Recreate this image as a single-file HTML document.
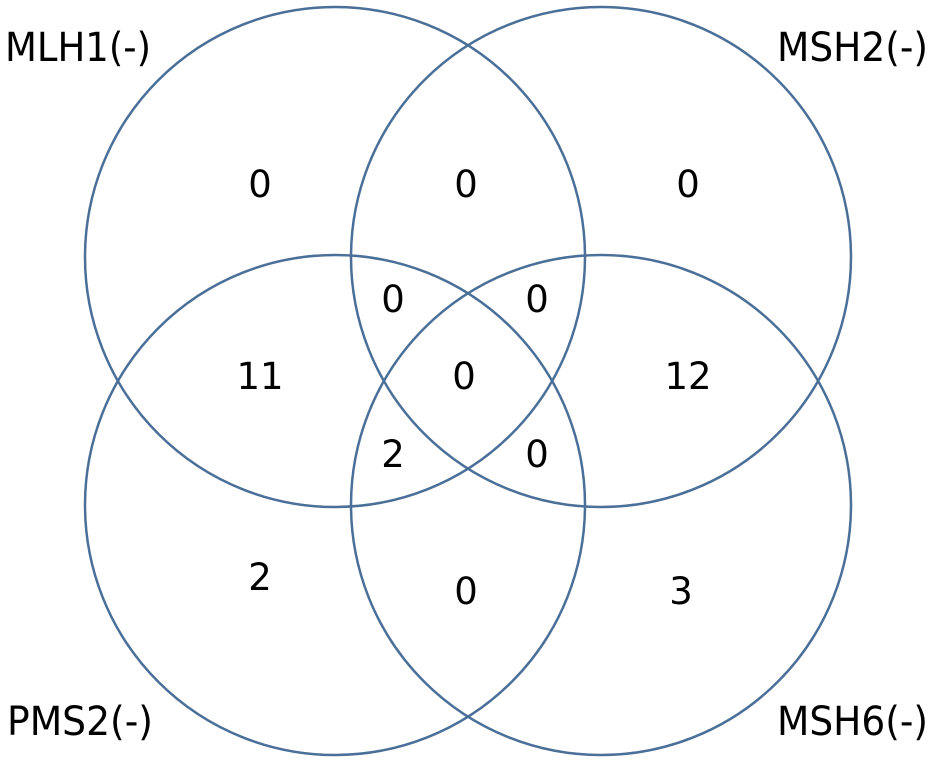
<!DOCTYPE html>
<html><head><meta charset="utf-8"><style>
html,body{margin:0;padding:0;background:#fff;}
svg{display:block;}
text{font-family:"DejaVu Sans","Liberation Sans",sans-serif;fill:#000;}
</style></head><body>
<svg width="938" height="769" viewBox="0 0 938 769" xmlns="http://www.w3.org/2000/svg">
<g fill="none" stroke="#4a6f98" stroke-width="2.5">
<circle cx="335" cy="257" r="250"/>
<circle cx="601" cy="257" r="250"/>
<circle cx="335" cy="505" r="250"/>
<circle cx="601" cy="505" r="250"/>
</g>
<g font-size="40">
<text x="5" y="61" textLength="146" lengthAdjust="spacingAndGlyphs">MLH1(-)</text>
<text x="777" y="61" textLength="151" lengthAdjust="spacingAndGlyphs">MSH2(-)</text>
<text x="7" y="735" textLength="146" lengthAdjust="spacingAndGlyphs">PMS2(-)</text>
<text x="777" y="735" textLength="151" lengthAdjust="spacingAndGlyphs">MSH6(-)</text>
</g>
<g font-size="37" text-anchor="middle">
<text x="260" y="197">0</text>
<text x="466" y="197">0</text>
<text x="688" y="197">0</text>
<text x="393" y="312">0</text>
<text x="537" y="312">0</text>
<text x="260" y="389">11</text>
<text x="464" y="389">0</text>
<text x="688" y="389">12</text>
<text x="393" y="467">2</text>
<text x="537" y="467">0</text>
<text x="260" y="590">2</text>
<text x="466" y="604">0</text>
<text x="681" y="604">3</text>
</g>
</svg>
</body></html>
